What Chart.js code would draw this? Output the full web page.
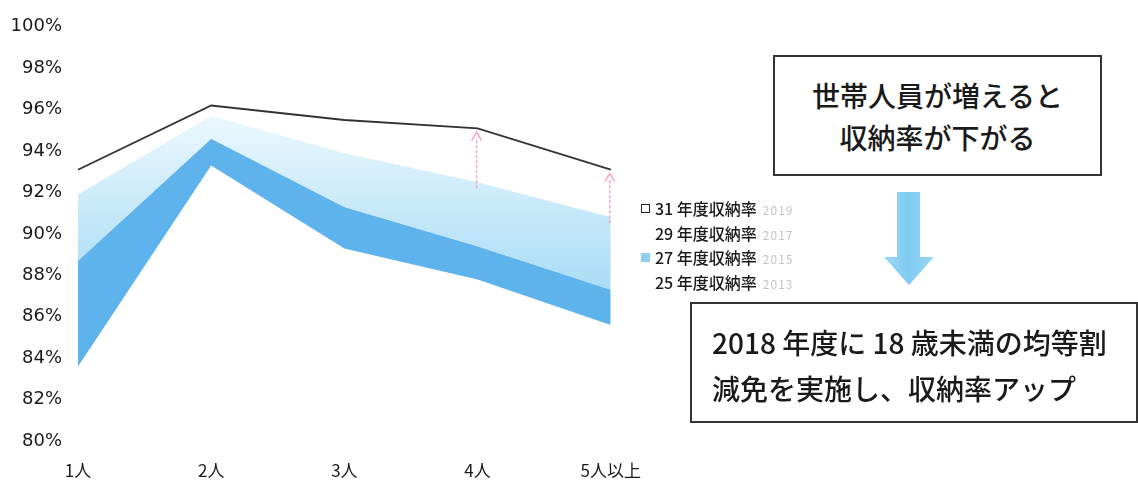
<!DOCTYPE html>
<html>
<head>
<meta charset="utf-8">
<script src="https://cdn.jsdelivr.net/npm/chart.js@4/dist/chart.umd.min.js"></script>
<style>
  body { margin: 0; background: #fff; width: 1138px; height: 485px; position: relative; overflow: hidden;
         font-family: "Noto Sans CJK JP", "Noto Sans", sans-serif; color: #1a1a1a; }
  #wrap { position: absolute; left: 0; top: 0; width: 660px; height: 485px; }
  .legend { position: absolute; left: 640px; top: 197px; font-size: 16px; line-height: 23.5px; font-weight: 500; }
  .legend div { position: relative; padding-left: 15px; white-space: nowrap; }
  .legend .mk { position: absolute; left: 1px; top: 7px; width: 9px; height: 9px; box-sizing: border-box; }
  .legend .yr { color: #c4c4c4; font-size: 12px; margin-left: 6px; letter-spacing: 1px; font-weight: 400; }
  .box { position: absolute; border: 2px solid #333; box-sizing: border-box; font-size: 28px; font-weight: 500; }
  #box1 { left: 773px; top: 55px; width: 329px; height: 121px; text-align: center; line-height: 42px; padding-top: 17px; }
  #box2 { left: 690px; top: 302px; width: 448px; height: 121px; line-height: 46px; padding-left: 20px; padding-top: 15px; }
  svg { position: absolute; left: 0; top: 0; }
</style>
</head>
<body>
<div id="wrap"><canvas id="chart" width="660" height="485"></canvas></div>
<div class="legend" id="legend"></div>
<div class="box" id="box1">世帯人員が増えると<br>収納率が下がる</div>
<svg width="1138" height="485">
  <defs>
    <linearGradient id="ag" x1="0" y1="0" x2="1" y2="0">
      <stop offset="0" stop-color="#9bd8f5"/>
      <stop offset="0.5" stop-color="#7fcbf2"/>
      <stop offset="1" stop-color="#9bd8f5"/>
    </linearGradient>
  </defs>
  <polygon points="897,192 920,192 920,257 934,257 909,285 884,257 897,257" fill="url(#ag)"/>
</svg>
<div class="box" id="box2">2018 年度に 18 歳未満の均等割<br>減免を実施し、収納率アップ</div>
<script>
const categories = ["1人", "2人", "3人", "4人", "5人以上"];
const seriesNames = ["31 年度収納率", "29 年度収納率", "27 年度収納率", "25 年度収納率"];
const seriesYears = ["2019", "2017", "2015", "2013"];
const fy31 = [93.1, 96.2, 95.5, 95.1, 93.1];
const fy29 = [91.9, 95.7, 93.9, 92.5, 90.8];
const fy27 = [88.7, 94.6, 91.3, 89.4, 87.3];
const fy25 = [83.6, 93.3, 89.3, 87.8, 85.6];
const arrowAt = [3, 4];

// legend (html)
const legendMarks = [
  'border:1.5px solid #222;background:#fff;',
  '',
  'background:#8fd0f2;',
  ''
];
document.getElementById("legend").innerHTML = seriesNames.map((n, i) =>
  `<div>${legendMarks[i] ? `<span class="mk" style="${legendMarks[i]}"></span>` : ""}${n}<span class="yr">${seriesYears[i]}</span></div>`
).join("");

function paleFill(ctx) {
  const chart = ctx.chart;
  if (!chart.chartArea) return "#cdeefb";
  const y = chart.scales.y;
  const g = chart.ctx.createLinearGradient(0, y.getPixelForValue(96), 0, y.getPixelForValue(87));
  g.addColorStop(0, "#eef9fe");
  g.addColorStop(1, "#a6dbf4");
  return g;
}

const pinkArrows = {
  id: "pinkArrows",
  afterDatasetsDraw(chart) {
    const c = chart.ctx, x = chart.scales.x, y = chart.scales.y;
    c.save();
    c.strokeStyle = "#f2a6b8";
    c.lineWidth = 1.5;
    arrowAt.forEach((i) => {
      const px = x.getPixelForValue(i) - 1;
      const y0 = y.getPixelForValue(fy29[i]) + 6;
      const y1 = y.getPixelForValue(fy31[i]) + 3;
      c.setLineDash([3, 2]);
      c.beginPath(); c.moveTo(px, y0); c.lineTo(px, y1 + 6); c.stroke();
      c.setLineDash([]);
      c.beginPath(); c.moveTo(px - 5, y1 + 9); c.lineTo(px, y1 + 1); c.lineTo(px + 5, y1 + 9); c.stroke();
    });
    c.restore();
  }
};

new Chart(document.getElementById("chart"), {
  type: "line",
  data: {
    labels: categories,
    datasets: [
      { label: seriesNames[0], data: fy31, borderColor: "#333", borderWidth: 1.8, fill: false, pointRadius: 0 },
      { label: seriesNames[1], data: fy29, borderWidth: 0, backgroundColor: paleFill, fill: "+1", pointRadius: 0 },
      { label: seriesNames[2], data: fy27, borderWidth: 0, backgroundColor: "#5fb3ec", fill: "+1", pointRadius: 0 },
      { label: seriesNames[3], data: fy25, borderWidth: 0, borderColor: "rgba(0,0,0,0)", fill: false, pointRadius: 0 },
    ],
  },
  options: {
    responsive: false,
    animation: false,
    devicePixelRatio: 1,
    layout: { padding: { top: 18, right: 43, bottom: 0, left: 0 } },
    plugins: { legend: { display: false }, tooltip: { enabled: false } },
    scales: {
      x: {
        offset: false,
        grid: { display: false, drawTicks: false },
        border: { display: false },
        ticks: { padding: 19, color: "#1a1a1a", font: { family: "Noto Sans CJK JP", size: 17 }, maxRotation: 0 },
        afterFit: (s) => { s.height = 44; },
      },
      y: {
        min: 80,
        max: 100,
        grid: { display: false, drawTicks: false },
        border: { display: false },
        ticks: { stepSize: 2, padding: 16, color: "#1a1a1a", font: { family: "DejaVu Sans", size: 18 }, callback: (v) => v + "%" },
        afterFit: (s) => { s.width = 78; },
      },
    },
  },
  plugins: [pinkArrows],
});
</script>
</body>
</html>
